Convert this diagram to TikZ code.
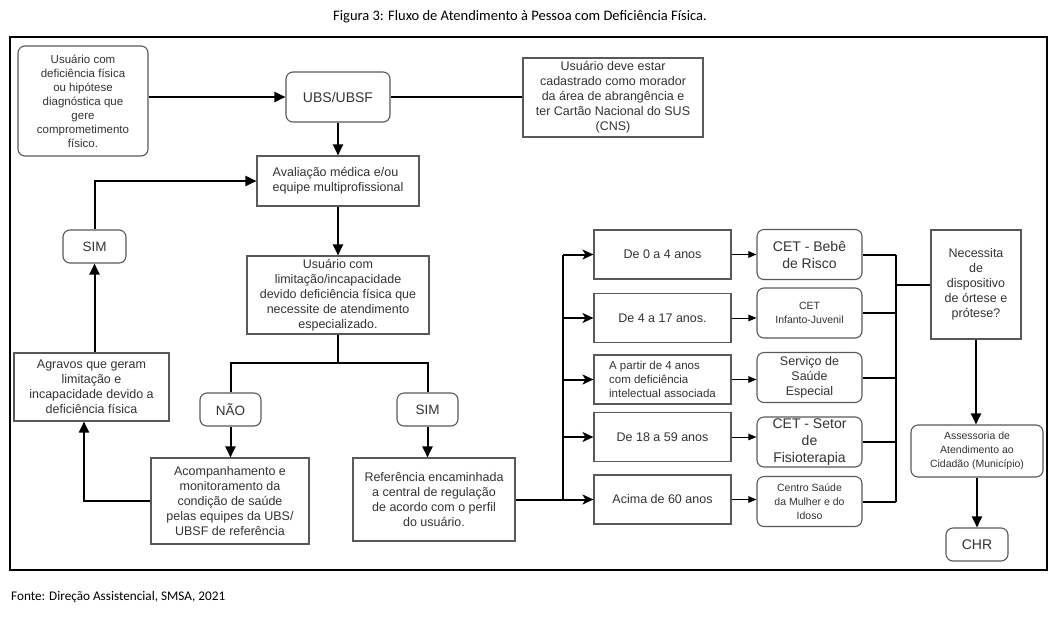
\documentclass[tikz,border=0pt]{standalone}
\usepackage{fontspec}
\setmainfont{Liberation Sans}
\newfontfamily\calibfont{Carlito}
\usetikzlibrary{calc,arrows.meta}

\begin{document}
\begin{tikzpicture}[x=1pt,y=-1pt,
    box/.style={draw=black!65, line width=1.1pt, fill=white, align=center, text=black!80, inner sep=1pt, font=\fontsize{12.5}{15}\selectfont},
    rbox/.style={box, rounded corners=7pt},
    agebox/.style={box, minimum width=137pt, minimum height=49pt},
    svcbox/.style={rbox, minimum width=105pt, minimum height=50pt},
    link/.style={line width=2pt},
    conn/.style={line width=2pt, -{Triangle[length=11pt,width=10pt]}},
    bus/.style={line width=2pt, -{Stealth[length=11pt,width=10pt,inset=3pt]}},
    fine/.style={line width=1pt, -{Triangle[length=8pt,width=6.5pt]}}]
    \useasboundingbox (0,0) rectangle (1055,619);
    \node[font=\calibfont\fontsize{14.5}{17}\selectfont] (title) at (520,17) {Figura 3: Fluxo de Atendimento à Pessoa com Deficiência Física.};
    \node[anchor=west, inner sep=0pt, font=\calibfont\fontsize{13.2}{16}\selectfont] (fonte) at (11,597) {Fonte: Direção Assistencial, SMSA, 2021};
    \draw[line width=2.5pt] (10,37) rectangle (1047,570);

    % coluna da esquerda
    \node[rbox, minimum width=130pt, minimum height=110pt, font=\fontsize{11.5}{14}\selectfont] (user) at (83,101) {Usuário com\\deficiência física\\ou hipótese\\diagnóstica que\\gere\\comprometimento\\físico.};
    \node[rbox, minimum width=104pt, minimum height=50pt, font=\fontsize{14}{17}\selectfont] (ubs) at (338,97) {UBS/UBSF};
    \node[box, minimum width=180pt, minimum height=79pt] (cad) at (613,97.5) {Usuário deve estar\\cadastrado como morador\\da área de abrangência e\\ter Cartão Nacional do SUS\\(CNS)};
    \node[box, align=left, minimum width=162pt, minimum height=50pt] (aval) at (338,181) {Avaliação médica e/ou\\equipe multiprofissional};
    \node[box, minimum width=182pt, minimum height=78pt] (lim) at (338,295) {Usuário com\\limitação/incapacidade\\devido deficiência física que\\necessite de atendimento\\especializado.};
    \node[rbox, minimum width=63pt, minimum height=33pt, font=\fontsize{13.5}{16}\selectfont] (sim1) at (94.5,246.5) {SIM};
    \node[box, minimum width=155pt, minimum height=68pt] (agr) at (91.5,387) {Agravos que geram\\limitação e\\incapacidade devido a\\deficiência física};
    \node[rbox, minimum width=61pt, minimum height=33pt, font=\fontsize{13.5}{16}\selectfont] (nao) at (230.5,409.5) {NÃO};
    \node[rbox, minimum width=61pt, minimum height=33pt, font=\fontsize{13.5}{16}\selectfont] (sim2) at (427.5,409.5) {SIM};
    \node[box, minimum width=158pt, minimum height=86pt] (acomp) at (230,501) {Acompanhamento e\\monitoramento da\\condição de saúde\\pelas equipes da UBS/\\UBSF de referência};
    \node[box, minimum width=162pt, minimum height=83pt] (ref) at (434,499.5) {Referência encaminhada\\a central de regulação\\de acordo com o perfil\\do usuário.};

    % faixas etarias e servicos
    \node[agebox] (a1) at (662.5,254.5) {De 0 a 4 anos};
    \node[agebox] (a2) at (662.5,318) {De 4 a 17 anos.};
    \node[agebox, align=left, font=\fontsize{11.5}{14}\selectfont] (a3) at (662.5,379.5) {A partir de 4 anos\\com deficiência\\intelectual associada};
    \node[agebox] (a4) at (662.5,437) {De 18 a 59 anos};
    \node[agebox] (a5) at (662.5,499.5) {Acima de 60 anos};
    \node[svcbox, font=\fontsize{14}{17}\selectfont] (s1) at (809.5,254.5) {CET - Bebê\\de Risco};
    \node[svcbox, font=\fontsize{10.5}{14}\selectfont] (s2) at (809.5,313) {CET\\Infanto-Juvenil};
    \node[svcbox] (s3) at (809.5,377.5) {Serviço de\\Saúde\\Especial};
    \node[svcbox, font=\fontsize{14}{17}\selectfont] (s4) at (809.5,442) {CET - Setor\\de\\Fisioterapia};
    \node[svcbox, font=\fontsize{10.5}{14}\selectfont] (s5) at (809.5,501.5) {Centro Saúde\\da Mulher e do\\Idoso};

    % coluna da direita
    \node[box, minimum width=90pt, minimum height=109pt] (nec) at (976,284.5) {Necessita\\de\\dispositivo\\de órtese e\\prótese?};
    \node[rbox, minimum width=132pt, minimum height=52pt, font=\fontsize{10.5}{14}\selectfont] (ass) at (977,451) {Assessoria de\\Atendimento ao\\Cidadão (Município)};
    \node[rbox, minimum width=62pt, minimum height=33pt, font=\fontsize{14}{17}\selectfont] (chr) at (977,544.5) {CHR};

    \coordinate (split) at (338,363);
    \coordinate (busL) at (563,0);
    \coordinate (busR) at (896,0);

    \draw[conn] (ubs.west -| user.east) -- (ubs.west);
    \draw[link] (ubs.east) -- (ubs.east -| cad.west);
    \draw[conn] (ubs.south) -- (aval.north);
    \draw[conn] (aval.south) -- (lim.north);
    \draw[link] (lim.south) -- (split);
    \draw[link] (nao.north) |- (split) -| (sim2.north);
    \draw[conn] (nao.south) -- (nao.south |- acomp.north);
    \draw[conn] (sim2.south) -- (sim2.south |- ref.north);
    \draw[conn] (acomp.west) -| ($(agr.south)+(-7.5,0)$);
    \draw[conn] (sim1.south |- agr.north) -- (sim1.south);
    \draw[conn] (sim1.north) |- (aval.west);

    \draw[link] (ref.east) -- (ref.east -| busL);
    \draw[link] (a1.west -| busL) -- (a5.west -| busL);
    \foreach \r in {a1,a2,a3,a4,a5}
        \draw[bus] (\r.west -| busL) -- (\r.west);
    \foreach \r/\s in {a1/s1,a2/s2,a3/s3,a4/s4,a5/s5}
        \draw[fine] (\r.east) -- (\r.east -| \s.west);
    \foreach \s in {s1,s2,s3,s4,s5}
        \draw[link] (\s.east) -- (\s.east -| busR);
    \draw[link] (s1.east -| busR) -- (s5.east -| busR);
    \draw[link] (nec.west -| busR) -- (nec.west);
    \draw[conn] (nec.south) -- (nec.south |- ass.north);
    \draw[conn] (ass.south) -- (ass.south |- chr.north);
\end{tikzpicture}
\end{document}
